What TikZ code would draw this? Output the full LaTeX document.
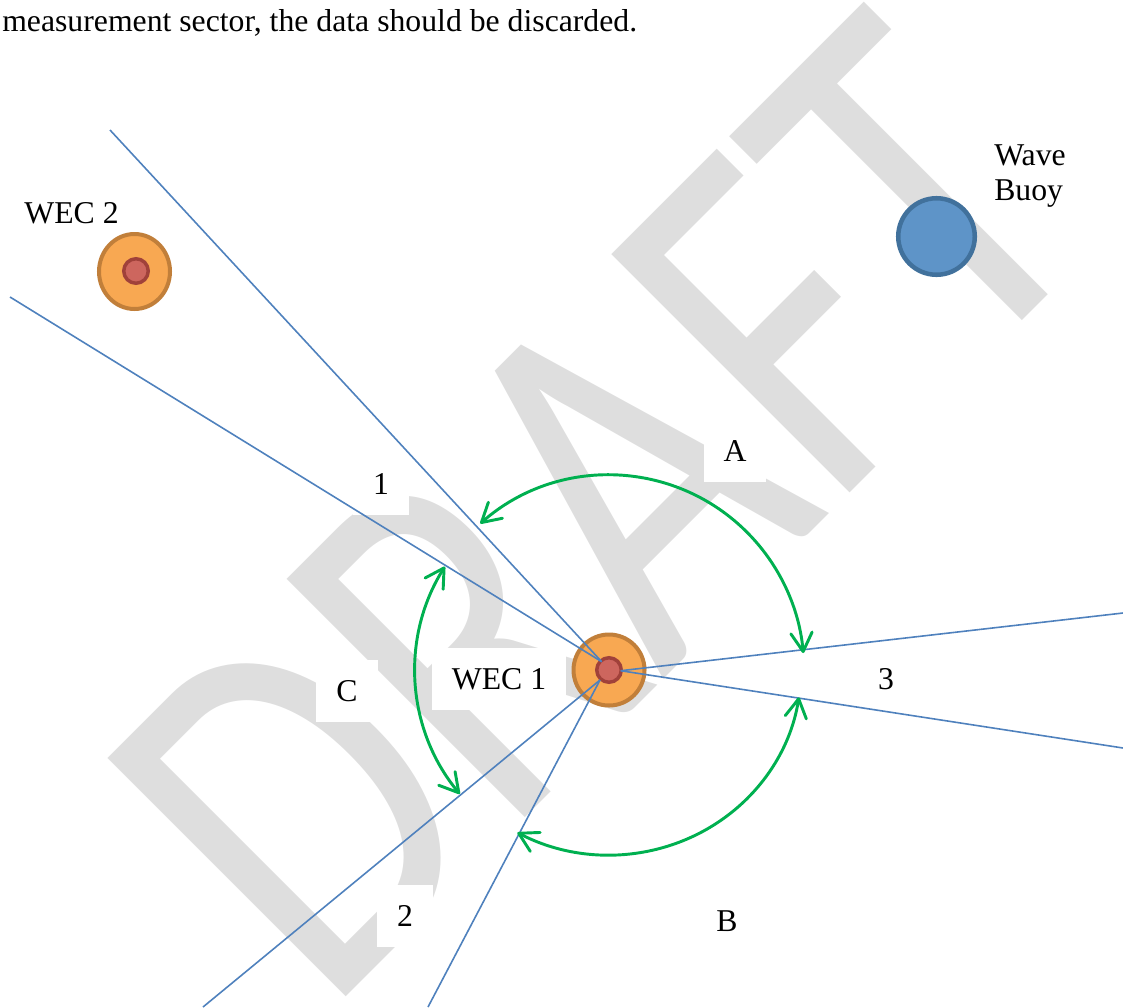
\documentclass[tikz,border=0pt]{standalone}
\usepackage{graphicx}
\usepackage{fontspec}
\setmainfont{Liberation Serif}
\newfontfamily\wmfont{Carlito}
\usetikzlibrary{arrows.meta,shapes.geometric,calc}
\definecolor{wmgray}{RGB}{222,222,222}
\definecolor{sectorblue}{RGB}{79,129,189}
\definecolor{arcgreen}{RGB}{0,176,80}
\definecolor{wecfill}{RGB}{248,168,82}
\definecolor{wecedge}{RGB}{193,127,58}
\definecolor{corefill}{RGB}{205,102,94}
\definecolor{coreedge}{RGB}{160,65,58}
\definecolor{buoyfill}{RGB}{94,148,200}
\definecolor{buoyedge}{RGB}{65,113,156}
\begin{document}
\begin{tikzpicture}[x=0.75pt,y=-0.75pt,
  lbl/.style={font=\fontsize{23.8pt}{28pt}\selectfont, inner sep=0pt},
  lblbox/.style={lbl, fill=white, inner xsep=15pt, minimum height=46pt},
  sector/.style={draw=sectorblue, line width=1.2pt},
  barb/.tip={Straight Barb[length=14pt,width=16pt,round]},
  sweep/.style={draw=arcgreen, line width=2.2pt, barb-barb},
  wecouter/.style={draw=wecedge, fill=wecfill, line width=3pt, inner sep=0pt},
  weccore/.style={circle, draw=coreedge, fill=corefill, line width=2.6pt, minimum size=18.4pt, inner sep=0pt},
  buoy/.style={circle, draw=buoyedge, fill=buoyfill, line width=3.4pt, minimum size=57.4pt, inner sep=0pt}
]
\useasboundingbox (0,0) rectangle (1123,1007);
\clip (0,0) rectangle (1123,1007);

% watermark
\node[rotate=45, anchor=base west, inner sep=0pt, text=wmgray] (wm) at (326.2,1016.8)
  {\resizebox{825.8pt}{252.4pt}{\wmfont DRAFT}};

% labels (white text boxes)
\node[lbl, anchor=base west] (caption) at (2,31) {measurement sector, the data should be discarded.};
\node[lblbox] (lwec2) at (71.5,213) {WEC 2};
\node[lbl, anchor=base west] (lwave) at (994,165) {Wave};
\node[lbl, anchor=base west] (lbuoy) at (994,200) {Buoy};
\node[lblbox] (l1) at (381,484) {1};
\node[lblbox] (lA) at (735,451) {A};
\node[lblbox] (lC) at (347,691) {C};
\node[lblbox] (lwec1) at (499,679) {WEC 1};
\node[lblbox] (l3) at (886,679) {3};
\node[lblbox] (l2) at (405,916) {2};
\node[lblbox] (lB) at (727,921) {B};

% devices
\node[wecouter, circle, minimum size=53.25pt] (wec1) at (609,670) {};
\node[weccore] (wec1core) at (609,670) {};
\node[wecouter, ellipse, minimum width=53.25pt, minimum height=56.25pt] (wec2) at (134.5,271.5) {};
\node[weccore] (wec2core) at (136,271) {};
\node[buoy] (buoy) at (936.5,236.5) {};

% sector lines
\coordinate (hubL) at (601.7,661.7);
\coordinate (hubR) at (620.7,670.7);
\coordinate (hubB) at (600,680);
\coordinate (e1a) at (110,130);
\coordinate (e1b) at (10,297);
\coordinate (e3a) at (1123,613);
\coordinate (e3b) at (1123,748);
\coordinate (e2a) at (203,1007);
\coordinate (e2b) at (428,1007);
\draw[sector] (e1a) -- (hubL);
\draw[sector] (e1b) -- (hubL);
\draw[sector] (hubR) -- (e3a);
\draw[sector] (hubR) -- (e3b);
\draw[sector] (hubB) -- (e2a);
\draw[sector] (hubB) -- (e2b);

% sweep arcs
\coordinate (c) at (609,670);
\coordinate (aL) at ($(c)+(-131.3:195)$);
\coordinate (bL) at ($(c)+(118.5:192 and 185)$);
\coordinate (cT) at ($(c)+(212.2:194)$);
\draw[sweep] (aL) arc[start angle=-131.3, end angle=-5, radius=195];
\draw[sweep] (bL) arc[start angle=118.5, end angle=8.5, x radius=192, y radius=185];
\draw[sweep] (cT) arc[start angle=212.2, end angle=140.3, radius=194];
\end{tikzpicture}
\end{document}
